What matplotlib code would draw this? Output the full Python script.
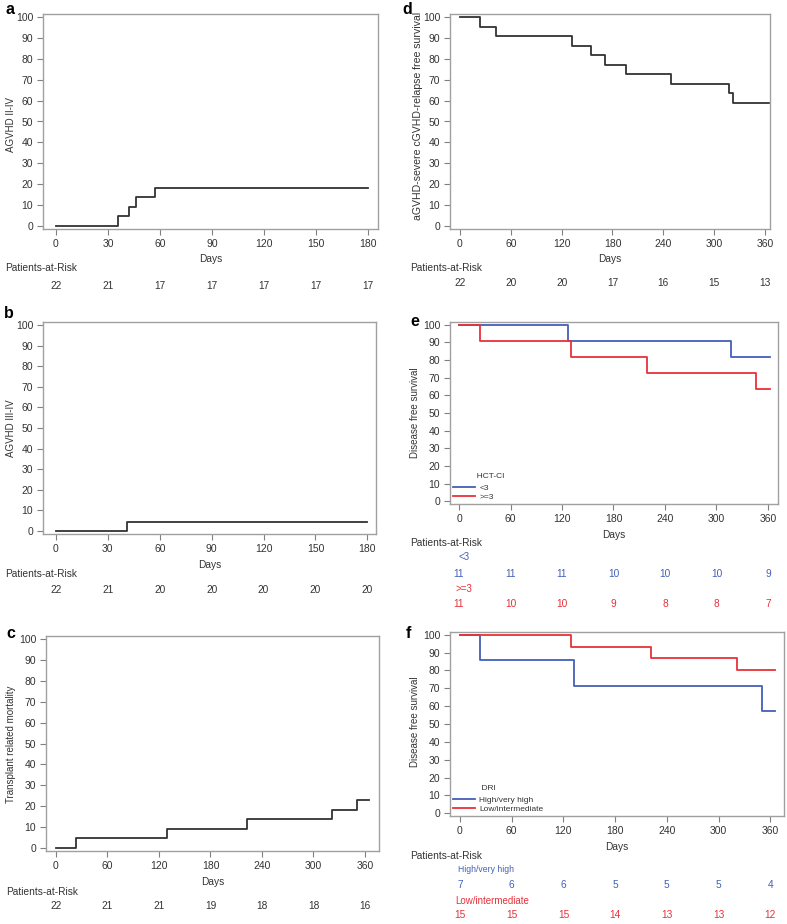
import matplotlib
matplotlib.use('Agg')
import matplotlib.pyplot as plt
from matplotlib.transforms import blended_transform_factory

plt.rcParams.update({
    'font.family': ['Liberation Sans', 'DejaVu Sans'],
    'font.size': 7.5,
    'axes.edgecolor': '#a0a0a0',
    'axes.linewidth': 1.0,
    'xtick.color': '#808080',
    'ytick.color': '#808080',
    'xtick.labelcolor': '#333333',
    'ytick.labelcolor': '#333333',
    'xtick.major.size': 4,
    'ytick.major.size': 4,
    'xtick.direction': 'out',
    'ytick.direction': 'out',
})

BLUE = '#4360b8'
RED = '#e8303a'
DARK = '#333333'

# ---- data ----
a_times = [0, 36, 42, 46, 57, 180]
a_vals = [0, 4.5, 9.1, 13.6, 18.2, 18.2]
a_risk = [22, 21, 17, 17, 17, 17, 17]

b_times = [0, 41, 180]
b_vals = [0, 4.5, 4.5]
b_risk = [22, 21, 20, 20, 20, 20, 20]

c_times = [0, 23, 129, 222, 322, 351, 365]
c_vals = [0, 4.5, 9.1, 13.6, 18.2, 22.7, 22.7]
c_risk = [22, 21, 21, 19, 18, 18, 16]

d_times = [0, 24, 42, 132, 155, 171, 196, 249, 317, 322, 365]
d_vals = [100, 95.5, 90.9, 86.4, 81.8, 77.3, 72.7, 68.2, 63.6, 59.1, 59.1]
d_risk = [22, 20, 20, 17, 16, 15, 13]

e_lt3_times = [0, 127, 317, 362]
e_lt3_vals = [100, 90.9, 81.8, 81.8]
e_ge3_times = [0, 24, 131, 219, 346, 362]
e_ge3_vals = [100, 90.9, 81.8, 72.7, 63.6, 63.6]
e_lt3_risk = [11, 11, 11, 10, 10, 10, 9]
e_ge3_risk = [11, 10, 10, 9, 8, 8, 7]

f_high_times = [0, 23, 132, 350, 365]
f_high_vals = [100, 85.7, 71.4, 57.1, 57.1]
f_low_times = [0, 129, 222, 321, 365]
f_low_vals = [100, 93.3, 86.7, 80, 80]
f_high_risk = [7, 6, 6, 5, 5, 5, 4]
f_low_risk = [15, 15, 15, 14, 13, 13, 12]

ticks_180 = [0, 30, 60, 90, 120, 150, 180]
ticks_360 = [0, 60, 120, 180, 240, 300, 360]
yticks = list(range(0, 101, 10))

W, H = 787, 924
fig = plt.figure(figsize=(W / 100, H / 100), dpi=100)


def fy(y):
    return 1 - y / H


def make_ax(x0, y0, x1, y1, xlim, xticks, ylabel, ylx, yly, letter, lx, ly, days_y, par_x, par_y, ylsize=7):
    ax = fig.add_axes([x0 / W, 1 - y1 / H, (x1 - x0) / W, (y1 - y0) / H])
    ax.set_xlim(*xlim)
    ax.set_ylim(-1.5, 101.5)
    ax.set_xticks(xticks)
    ax.set_yticks(yticks)
    ax.tick_params(labelsize=7.5, width=0.8, pad=3)
    fig.text(ylx / W, fy(yly), ylabel, rotation=90, ha='center', va='center', fontsize=ylsize, color=DARK)
    fig.text((x0 + x1) / 2 / W, fy(days_y), 'Days', ha='center', va='center', fontsize=7.3, color=DARK)
    fig.text(par_x / W, fy(par_y), 'Patients-at-Risk', ha='left', va='center', fontsize=7.3, color=DARK)
    fig.text(lx / W, fy(ly), letter, ha='left', va='center', fontsize=11.5, fontweight='bold', color='black')
    return ax


def risk_row(ax, xs, counts, y, color=DARK):
    tr = blended_transform_factory(ax.transData, fig.transFigure)
    for x, n in zip(xs, counts):
        ax.text(x, fy(y), str(n), transform=tr, ha='center', va='center', fontsize=7.3, color=color, clip_on=False)


def group_legend(ax, title, pad):
    leg = ax.legend(loc='lower left', title=' ' * pad + title, frameon=False, fontsize=6, title_fontsize=6,
                    alignment='left', handlelength=2.6, handletextpad=0.5, labelspacing=0.1,
                    borderaxespad=0.2, borderpad=0.2)
    leg._legend_box.sep = 3
    for t in [leg.get_title()] + leg.get_texts():
        t.set_color(DARK)
    return leg


# a
ax = make_ax(43, 14, 378, 229, (-7.5, 185.8), ticks_180, 'AGVHD II-IV', 11.5, 124,
             'a', 5, 10, 259, 5, 268)
ax.step(a_times, a_vals, where='post', color=DARK, lw=1.3)
risk_row(ax, ticks_180, a_risk, 286)

# b
ax = make_ax(43, 322, 376, 534, (-7.5, 185.0), ticks_180, 'AGVHD III-IV', 11.5, 428,
             'b', 4, 314, 565, 5, 574)
ax.step(b_times, b_vals, where='post', color=DARK, lw=1.3)
risk_row(ax, ticks_180, b_risk, 590)

# c
ax = make_ax(46, 636, 379, 851, (-11.6, 376.3), ticks_360, 'Transplant related mortality', 11, 744,
             'c', 6, 633, 882, 6, 892)
ax.step(c_times, c_vals, where='post', color=DARK, lw=1.3)
risk_row(ax, ticks_360, c_risk, 906)

# d
ax = make_ax(450, 14, 770, 229, (-11.8, 365.9), ticks_360, 'aGVHD-severe cGVHD-relapse free survival', 418, 116,
             'd', 402, 10, 259, 410, 268, ylsize=7.6)
ax.step(d_times, d_vals, where='post', color=DARK, lw=1.3)
risk_row(ax, ticks_360, d_risk, 283)

# e
ax = make_ax(450, 322, 778, 504, (-10.5, 371.7), ticks_360, 'Disease free survival', 414.5, 413,
             'e', 410, 322, 535, 410, 543)
ax.step(e_lt3_times, e_lt3_vals, where='post', color=BLUE, lw=1.3, label='<3')
ax.step(e_ge3_times, e_ge3_vals, where='post', color=RED, lw=1.3, label='>=3')
group_legend(ax, 'HCT-CI', 10)
fig.text(458 / W, fy(557), '<3', ha='left', va='center', fontsize=7, color=BLUE)
risk_row(ax, ticks_360, e_lt3_risk, 574, BLUE)
fig.text(455 / W, fy(589), '>=3', ha='left', va='center', fontsize=7, color=RED)
risk_row(ax, ticks_360, e_ge3_risk, 604, RED)

# f
ax = make_ax(450, 632, 784, 816, (-11.6, 376.0), ticks_360, 'Disease free survival', 415.5, 722,
             'f', 406, 633, 847, 410, 856)
ax.step(f_high_times, f_high_vals, where='post', color=BLUE, lw=1.3, label='High/very high')
ax.step(f_low_times, f_low_vals, where='post', color=RED, lw=1.3, label='Low/intermediate')
group_legend(ax, 'DRI', 12)
fig.text(458 / W, fy(870), 'High/very high', ha='left', va='center', fontsize=6.2, color=BLUE)
risk_row(ax, ticks_360, f_high_risk, 885, BLUE)
fig.text(455 / W, fy(901), 'Low/intermediate', ha='left', va='center', fontsize=7, color=RED)
risk_row(ax, ticks_360, f_low_risk, 915, RED)

fig.savefig('out.png', dpi=100)
